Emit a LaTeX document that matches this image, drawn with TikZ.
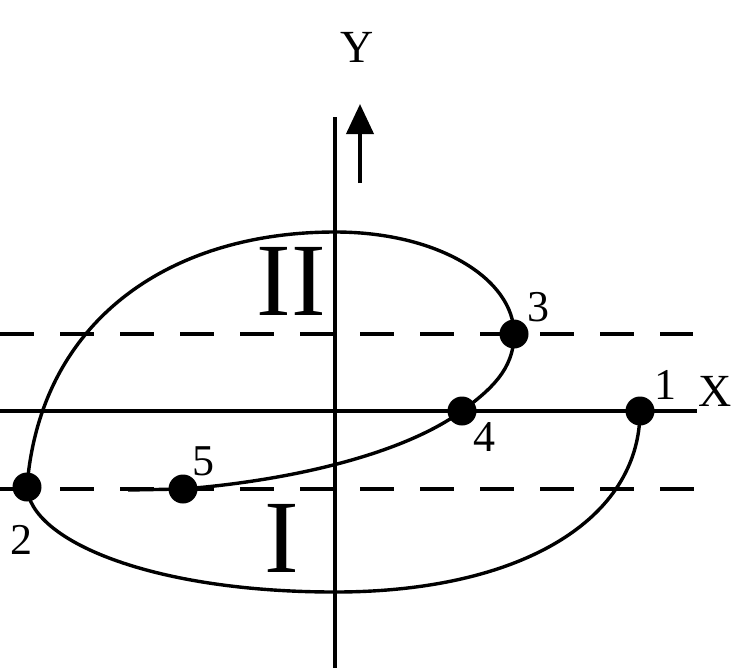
\documentclass[tikz,border=0pt]{standalone}
\usepackage{fontspec}
\setmainfont{Liberation Serif}
\usetikzlibrary{arrows.meta}
\begin{document}
\begin{tikzpicture}[x=1pt,y=-1pt,
  axisline/.style={line width=3.4pt},
  dashline/.style={line width=3.6pt,dash pattern=on 34pt off 26pt},
  curveline/.style={line width=3.4pt},
  dotnode/.style={circle,fill=black,inner sep=0pt,minimum size=29pt},
  numlabel/.style={inner sep=0pt,font=\fontsize{44}{44}\selectfont},
  axlabel/.style={inner sep=0pt,font=\fontsize{46}{46}\selectfont},
  bigroman/.style={inner sep=0pt,font=\fontsize{104}{104}\selectfont}]
\useasboundingbox (0,0) rectangle (746,670);
% axes
\coordinate (xl) at (0,411);
\coordinate (xr) at (697,411);
\coordinate (yt) at (335,117);
\coordinate (yb) at (335,668);
\draw[axisline] (xl) -- (xr);
\draw[axisline] (yt) -- (yb);
% dashed lines
\coordinate (d1l) at (0,334);
\coordinate (d1r) at (693,334);
\coordinate (d2l) at (0,489);
\coordinate (d2r) at (697,489);
\draw[dashline] (d1l) -- (d1r);
\draw[dashline] (d2l) -- (d2r);
% arrow
\coordinate (as) at (360,183);
\coordinate (ae) at (360,104);
\draw[line width=4pt,-{Triangle[length=30pt,width=27pt]}] (as) -- (ae);
% points
\coordinate (p1) at (640,411);
\coordinate (p2) at (27,487);
\coordinate (p3) at (514,334);
\coordinate (p4) at (462,411);
\coordinate (p5) at (183,489);
\coordinate (bot) at (335,592);
\coordinate (top) at (335,232);
\coordinate (tail) at (128,490);
% curve
\draw[curveline] (p1) .. controls (640,520) and (520,592) .. (bot)
  .. controls (150,592) and (30,540) .. (p2)
  .. controls (40,320) and (170,232) .. (top)
  .. controls (440,232) and (514,280) .. (p3)
  .. controls (514,370) and (490,390) .. (p4)
  .. controls (400,456) and (285,481) .. (p5)
  -- (tail);
% dots
\node[dotnode] (n1) at (p1) {};
\node[dotnode] (n2) at (p2) {};
\node[dotnode] (n3) at (p3) {};
\node[dotnode] (n4) at (p4) {};
\node[dotnode] (n5) at (p5) {};
% labels
\node[numlabel] (l1) at (665,385) {1};
\node[numlabel] (l2) at (21,540) {2};
\node[numlabel] (l3) at (538,307) {3};
\node[numlabel] (l4) at (484,437) {4};
\node[numlabel] (l5) at (203,461) {5};
\node[axlabel] (lx) at (715,391) {X};
\node[axlabel] (ly) at (357,47) {Y};
\node[bigroman] (r2) at (291,281) {II};
\node[bigroman] (r1) at (282,538) {I};
\end{tikzpicture}
\end{document}
